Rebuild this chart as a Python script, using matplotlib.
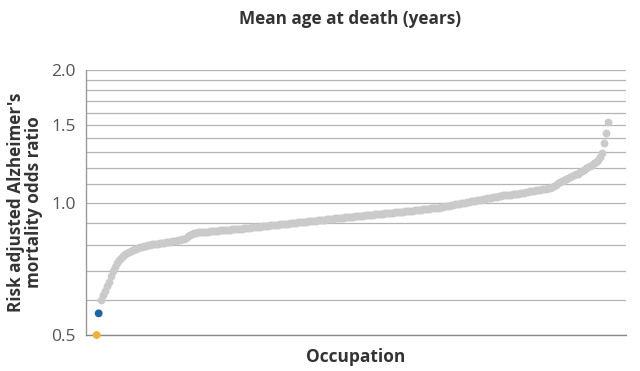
import matplotlib
matplotlib.use("Agg")
import matplotlib.pyplot as plt
from matplotlib import ticker

# highlighted occupations (lowest two)
highlight_vals = [0.50, 0.56]
highlight_colors = ['#f2b134', '#1b66a3']

# remaining occupations, sorted odds ratios
grey_vals = [
    0.600, 0.618, 0.630, 0.645, 0.660, 0.680, 0.700, 0.713, 0.727, 0.740,
    0.748, 0.755, 0.763, 0.768, 0.772, 0.776,
    0.780, 0.783, 0.786, 0.789, 0.792, 0.794, 0.796, 0.798, 0.800, 0.802,
    0.803, 0.804, 0.806, 0.807, 0.808, 0.810, 0.811, 0.812, 0.814, 0.815,
    0.816, 0.818, 0.819, 0.821, 0.823, 0.825, 0.828, 0.832,
    0.838, 0.845, 0.850, 0.853,
    0.854, 0.855, 0.856, 0.857, 0.858, 0.858, 0.859, 0.860, 0.861, 0.862,
    0.862, 0.863, 0.864, 0.865, 0.866, 0.867, 0.867, 0.868, 0.869, 0.870,
    0.871, 0.872, 0.873, 0.873, 0.874, 0.875, 0.876, 0.877, 0.878, 0.879,
    0.880, 0.881, 0.882, 0.883, 0.884, 0.885, 0.886, 0.887, 0.888, 0.889,
    0.890, 0.891, 0.892, 0.893, 0.894, 0.895, 0.896, 0.897, 0.898, 0.899,
    0.900, 0.901, 0.902,
    0.903, 0.904, 0.905, 0.906, 0.907, 0.908, 0.909, 0.910, 0.911, 0.912,
    0.913, 0.914, 0.915, 0.916, 0.917, 0.918, 0.919, 0.920, 0.921, 0.922,
    0.923, 0.924, 0.925, 0.926, 0.927, 0.928, 0.929, 0.930, 0.931, 0.932,
    0.933, 0.934, 0.935, 0.936, 0.937, 0.938, 0.939, 0.940, 0.941, 0.942,
    0.943, 0.944, 0.945, 0.946, 0.947, 0.948, 0.949, 0.950, 0.951, 0.952,
    0.953, 0.954, 0.955, 0.956, 0.957, 0.958, 0.959, 0.961, 0.962, 0.963,
    0.964, 0.965, 0.966, 0.967, 0.968, 0.970, 0.971, 0.972, 0.973, 0.974,
    0.976, 0.978, 0.980, 0.982, 0.984, 0.986, 0.988, 0.990, 0.992, 0.994,
    0.996, 0.998, 1.000, 1.002, 1.004, 1.006, 1.008, 1.010, 1.012, 1.014,
    1.016, 1.018, 1.020, 1.022, 1.024, 1.026, 1.028, 1.030, 1.032, 1.034,
    1.036, 1.038, 1.040, 1.041, 1.042, 1.043, 1.044, 1.045, 1.046, 1.048,
    1.050, 1.052, 1.054, 1.056, 1.058, 1.060, 1.062, 1.064, 1.066, 1.068,
    1.070, 1.072, 1.074, 1.076, 1.078, 1.081,
    1.087, 1.093, 1.099, 1.105, 1.111, 1.117, 1.123, 1.129, 1.135, 1.141,
    1.147, 1.153, 1.159, 1.164, 1.172, 1.180, 1.188, 1.196, 1.204, 1.212,
    1.220, 1.228, 1.238, 1.250, 1.270,
    1.299, 1.369, 1.442, 1.527,
]

major_ticks = [0.5, 1.0, 1.5, 2.0]
major_labels = ['0.5', '1.0', '1.5', '2.0']
minor_ticks = [0.6, 0.7, 0.8, 0.9, 1.1, 1.2, 1.3, 1.4, 1.6, 1.7, 1.8, 1.9]

plt.rcParams['font.family'] = ['Open Sans', 'DejaVu Sans']

fig = plt.figure(figsize=(6.4, 3.71), dpi=100)
ax = fig.add_axes([0.134, 0.097, 0.844, 0.714])

n_hi = len(highlight_vals)
x_hi = list(range(n_hi))
x_grey = list(range(n_hi, n_hi + len(grey_vals)))

ax.scatter(x_grey, grey_vals, s=32, color='#cacaca', linewidths=0, zorder=3, clip_on=False)
ax.scatter(x_hi, highlight_vals, s=32, color=highlight_colors, linewidths=0, zorder=4, clip_on=False)

ax.set_yscale('log', base=2)
ax.set_ylim(0.5, 2.0)
ax.set_xlim(-5.5, 266)

ax.yaxis.set_major_locator(ticker.FixedLocator(major_ticks))
ax.yaxis.set_major_formatter(ticker.FixedFormatter(major_labels))
ax.yaxis.set_minor_locator(ticker.FixedLocator(minor_ticks))
ax.yaxis.set_minor_formatter(ticker.NullFormatter())
ax.grid(True, which='both', axis='y', color='#b5b5b5', linewidth=0.9, zorder=0)
ax.set_axisbelow(True)
ax.set_xticks([])
ax.tick_params(axis='y', which='both', length=0, pad=7, labelsize=12.5, labelcolor='#555555')

for side in ['top', 'right']:
    ax.spines[side].set_visible(False)
ax.spines['left'].set_color('#999999')
ax.spines['bottom'].set_color('#8a8a8a')
ax.spines['left'].set_linewidth(1.0)
ax.spines['bottom'].set_linewidth(1.0)

ax.set_ylabel("Risk adjusted Alzheimer's\nmortality odds ratio", fontsize=12.3,
              fontweight='bold', color='#333333', labelpad=6, linespacing=1.05)
ax.set_xlabel('Occupation', fontsize=12.5, fontweight='bold', color='#333333', labelpad=9)
ax.set_title('Mean age at death (years)', fontsize=12.3, fontweight='bold',
             color='#333333', pad=33, x=0.489)

fig.savefig('out.png', dpi=100)
